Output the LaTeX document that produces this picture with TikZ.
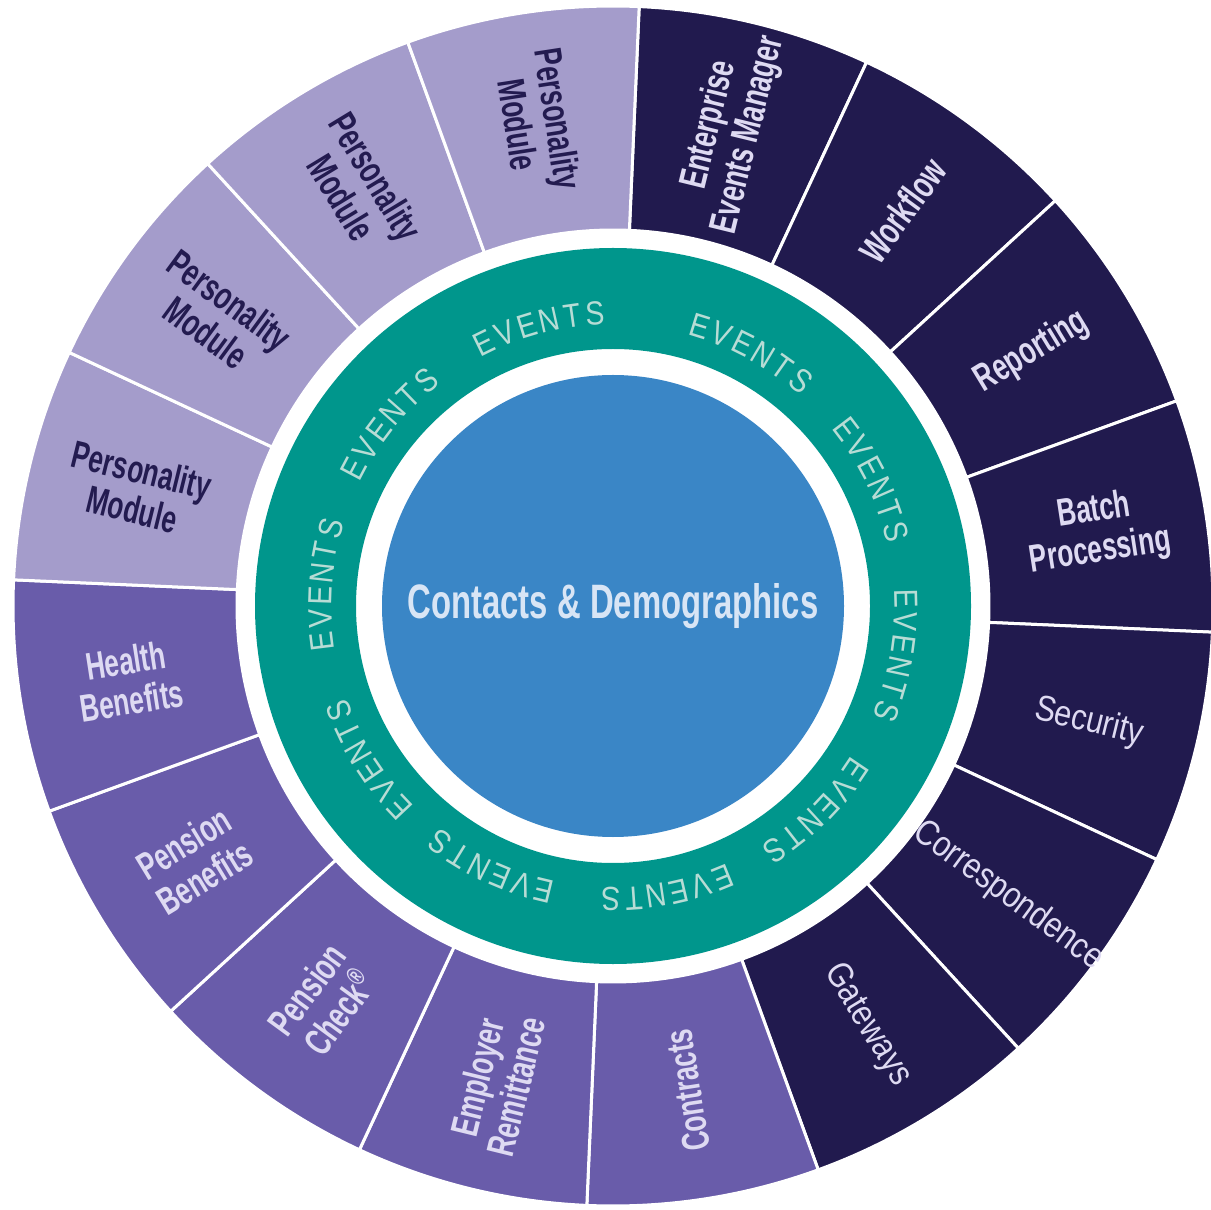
\documentclass[tikz,border=0pt]{standalone}
\usepackage{fontspec}
\setmainfont{Liberation Sans}[FakeStretch=0.68]
\newfontfamily\plainfont{Liberation Sans}[FakeStretch=0.85]
\usetikzlibrary{positioning}
\definecolor{lavseg}{HTML}{A49CCB}
\definecolor{midseg}{HTML}{695CAA}
\definecolor{navyseg}{HTML}{211A4E}
\definecolor{ringteal}{HTML}{00968C}
\definecolor{coreblue}{HTML}{3A86C6}
\definecolor{evtext}{HTML}{B7DCD5}
\definecolor{coretext}{HTML}{D8E5F5}
\definecolor{navytext}{HTML}{231B50}
\definecolor{paletext}{HTML}{DEDAF2}

\begin{document}
\begin{tikzpicture}[x=0.2mm, y=0.2mm]
    \tikzset{
        seglabel/.style={align=center, inner sep=0pt},
        boldlabel/.style={seglabel, font=\bfseries\fontsize{22}{23}\selectfont},
        thinlabel/.style={seglabel, font=\plainfont\fontsize{20.5}{22}\selectfont},
        evchar/.style={text=evtext, inner sep=0pt, font=\plainfont\fontsize{19}{19}\selectfont},
        segment/.style={draw=white, line width=0.6mm}
    }
    \useasboundingbox (0,0) rectangle (1211,1209);
    \begin{scope}[shift={(613,603)}]
    % outer wheel, clockwise from the top
    \foreach \k/\col/\fg/\sty/\rot/\txt in {
        0/navyseg/paletext/boldlabel/76.25/{Enterprise\\Events Manager},
        1/navyseg/paletext/boldlabel/53.75/{Workflow},
        2/navyseg/paletext/boldlabel/31.25/{Reporting},
        3/navyseg/paletext/boldlabel/8.75/{Batch\\Processing},
        4/navyseg/paletext/thinlabel/-13.75/{Security},
        5/navyseg/paletext/thinlabel/-36.25/{Correspondence},
        6/navyseg/paletext/thinlabel/-58.75/{Gateways},
        7/midseg/paletext/boldlabel/98.75/{Contracts},
        8/midseg/paletext/boldlabel/76.25/{Employer\\Remittance},
        9/midseg/paletext/boldlabel/53.75/{Pension\\Check\textsuperscript{®}},
        10/midseg/paletext/boldlabel/31.25/{Pension\\Benefits},
        11/midseg/paletext/boldlabel/8.75/{Health\\Benefits},
        12/lavseg/navytext/boldlabel/-13.75/{Personality\\Module},
        13/lavseg/navytext/boldlabel/-36.25/{Personality\\Module},
        14/lavseg/navytext/boldlabel/-58.75/{Personality\\Module},
        15/lavseg/navytext/boldlabel/-81.25/{Personality\\Module}}{
        \pgfmathsetmacro\aa{87.5-22.5*\k}
        \pgfmathsetmacro\ab{\aa-22.5}
        \pgfmathsetmacro\am{\aa-11.25}
        \path[segment, fill=\col] (\aa:376) -- (\aa:600)
            arc[start angle=\aa, end angle=\ab, radius=600] -- (\ab:376)
            arc[start angle=\ab, end angle=\aa, radius=376] -- cycle;
        \node[\sty, text=\fg, rotate=\rot] (seg\k) at (\am:490) {\txt};
    }
    % events ring
    \draw[ringteal, line width=20.2mm] (0,0) circle[radius=307.5];
    \foreach \w [count=\i] in {104.8,61.4,26,-9.8,-45.3,-79.2,-114.9,-147.9,175.8,140.9}
        \foreach \ch [count=\j] in {E,V,E,N,T,S} {
            \pgfmathsetmacro\t{\w+15.75-4.5*\j}
            \node[evchar, rotate=\t-90] (ev\i-\j) at (\t:293) {\ch};
        }
    % core
    \node[circle, fill=coreblue, minimum size=92.4mm, text=coretext,
        font=\bfseries\fontsize{27.5}{28}\selectfont] (core) at (0,0) {Contacts \& Demographics};
    \end{scope}
\end{tikzpicture}
\end{document}
